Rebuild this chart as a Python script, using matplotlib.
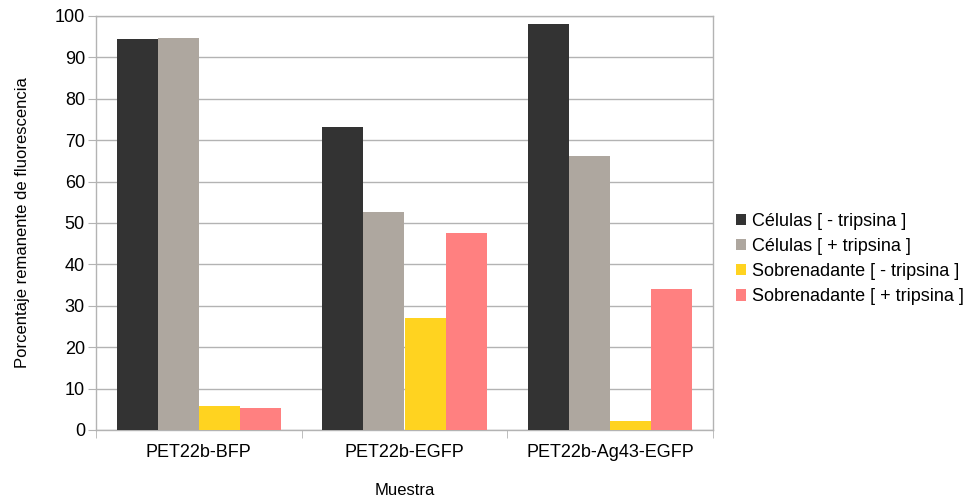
import numpy as np
import matplotlib.pyplot as plt

plt.rcParams['font.family'] = ['Liberation Sans', 'DejaVu Sans']

# remaining fluorescence (%) per sample
muestras = ['PET22b-BFP', 'PET22b-EGFP', 'PET22b-Ag43-EGFP']
series = ['Células [ - tripsina ]', 'Células [ + tripsina ]',
          'Sobrenadante [ - tripsina ]', 'Sobrenadante [ + tripsina ]']
celulas_menos = [94.4, 73.1, 98.0]
celulas_mas = [94.6, 52.7, 66.2]
sobren_menos = [5.7, 27.0, 2.1]
sobren_mas = [5.2, 47.6, 34.0]
colores = ['#333333', '#aea79f', '#ffd320', '#ff8080']

valores = [celulas_menos, celulas_mas, sobren_menos, sobren_mas]

fig = plt.figure(figsize=(9.72, 4.99), dpi=100)
ax = fig.add_axes([96 / 972, 1 - 430 / 499, 617 / 972, 414 / 499])

x = np.arange(len(muestras))
ancho = 0.2
for i, (vals, col, nom) in enumerate(zip(valores, colores, series)):
    ax.bar(x - 0.3 + i * ancho, vals, width=ancho, color=col, label=nom,
           zorder=3, linewidth=0)

ax.set_xlim(-0.5, 2.5)
ax.set_ylim(0, 100)
ax.set_yticks(range(0, 101, 10))
ax.grid(axis='y', color='#b3b3b3', linewidth=1, zorder=0)

# category ticks sit on the group boundaries
ax.set_xticks(x)
ax.set_xticklabels(muestras, fontsize=13)
ax.tick_params(axis='x', length=0, pad=10)
ax.set_xticks([-0.5, 0.5, 1.5, 2.5], minor=True)
ax.tick_params(axis='x', which='minor', length=6, color='#b3b3b3')
ax.tick_params(axis='y', length=6, color='#b3b3b3', labelsize=13, pad=2)

for s in ax.spines.values():
    s.set_color('#b3b3b3')
    s.set_linewidth(1)

ax.set_xlabel('Muestra', fontsize=12, labelpad=16)
ax.set_ylabel('Porcentaje remanente de fluorescencia', fontsize=12, labelpad=18)

ax.legend(loc='center left', bbox_to_anchor=(1.022, 0.413), frameon=False,
          fontsize=13, handlelength=0.6, handleheight=0.6, handletextpad=0.3,
          labelspacing=0.45, borderpad=0)

fig.savefig('out.png', dpi=100)
